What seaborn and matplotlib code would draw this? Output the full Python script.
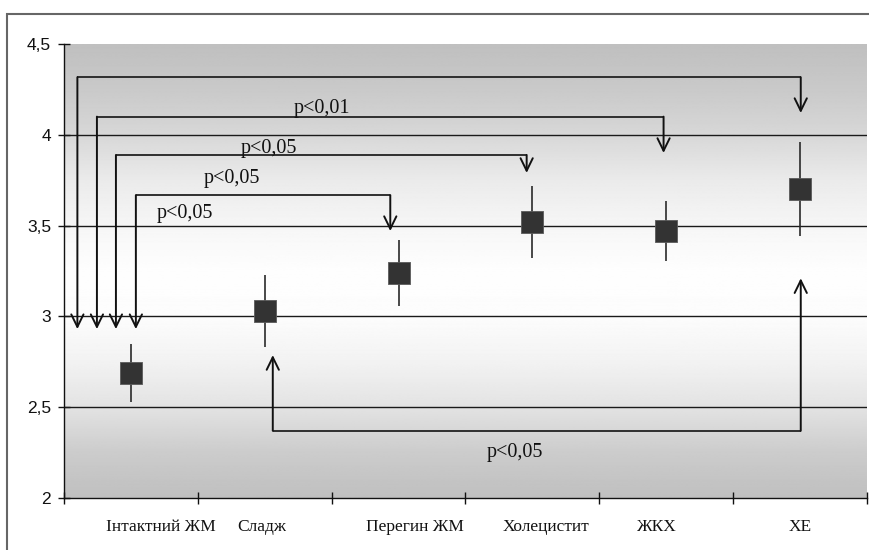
import numpy as np
import pandas as pd
import matplotlib
matplotlib.use('Agg')
import matplotlib.pyplot as plt
import matplotlib.transforms as mtransforms
from matplotlib.patches import Rectangle
import seaborn as sns

# data
groups = ['Інтактний ЖМ', 'Сладж', 'Перегин ЖМ', 'Холецистит', 'ЖКХ', 'ХЕ']
means = [2.69, 3.03, 3.24, 3.52, 3.47, 3.70]
errors = [0.16, 0.20, 0.18, 0.20, 0.165, 0.26]
y_ticks = [2, 2.5, 3, 3.5, 4, 4.5]
y_tick_labels = ['2', '2,5', '3', '3,5', '4', '4,5']

# significance comparisons (from group, to group) and their labels
comparisons = [(0, 5), (0, 4), (0, 3), (0, 2)]
comparison_labels = ['p<0,01', 'p<0,05', 'p<0,05', 'p<0,05']
bottom_comparison = (1, 5)
bottom_label = 'p<0,05'

# layout of the brackets (heights / offsets in axis units)
bracket_levels = [4.317, 4.10, 3.889, 3.668]
bracket_left_shift = [-0.40, -0.254, -0.112, 0.037]
bracket_right_shift = [0.005, -0.02, -0.043, -0.062]
right_tips = [4.12, 3.90, 3.79, 3.47]
left_tip = 2.93
label_pos = [(1.425, 4.147), (1.03, 3.927), (0.754, 3.762), (0.403, 3.564)]
bottom_level = 2.37
bottom_tips = (2.787, 3.21)
bottom_shift = (0.06, 0.005)
bottom_label_pos = (2.866, 2.253)
xlabel_shift_px = [30, -3, 16, 14, -9, 0]

sns.set_theme(style='white')
plt.rcParams['font.family'] = ['Liberation Sans', 'DejaVu Sans']

df = pd.DataFrame({'group': groups, 'mean': means, 'err': errors})

fig = plt.figure(figsize=(8.69, 5.5), dpi=100)
ax = fig.add_axes([64 / 869, 52 / 550, 803 / 869, 454 / 550])

# gradient background (grey at the edges, white in the middle)
stops_y = [2.0, 2.25, 2.5, 2.75, 3.0, 3.25, 3.5, 3.75, 4.0, 4.25, 4.5]
stops_g = [0.75, 0.80, 0.89, 0.95, 0.99, 0.995, 0.965, 0.92, 0.845, 0.79, 0.75]
yy = np.linspace(2, 4.5, 500)
grad = np.interp(yy, stops_y, stops_g)
ax.imshow(np.repeat(grad[:, None], 2, axis=1), cmap='gray', vmin=0, vmax=1,
          extent=[-0.5, 5.5, 2, 4.5], origin='lower', aspect='auto', zorder=0)

for yv in y_ticks[1:-1]:
    ax.axhline(yv, color='#1a1a1a', lw=1, zorder=1)

ax.vlines(range(len(groups)), df['mean'] - df['err'], df['mean'] + df['err'],
          color='#2a2a2a', lw=1.2, zorder=3)
sns.scatterplot(data=df, x='group', y='mean', marker='s', s=260, color='#333333',
                edgecolor='#5a5a5a', linewidth=0.6, zorder=4, ax=ax, legend=False)

arrow_kw = dict(arrowstyle='->,head_length=0.45,head_width=0.22', lw=1.4,
                color='#111111', shrinkA=0, shrinkB=0, mutation_scale=20)
serif = ['Liberation Serif', 'DejaVu Serif']

for k, (i, j) in enumerate(comparisons):
    x0 = i + bracket_left_shift[k]
    x1 = j + bracket_right_shift[k]
    lev = bracket_levels[k]
    ax.plot([x0, x1], [lev, lev], color='#222222', lw=1.3, zorder=5,
            solid_capstyle='butt')
    ax.annotate('', xy=(x0, left_tip), xytext=(x0, lev), arrowprops=arrow_kw,
                zorder=5, annotation_clip=False)
    ax.annotate('', xy=(x1, right_tips[k]), xytext=(x1, lev), arrowprops=arrow_kw,
                zorder=5, annotation_clip=False)
    ax.text(label_pos[k][0], label_pos[k][1], comparison_labels[k], ha='center',
            va='center', fontsize=14.5, family=serif, color='#111111', zorder=6)

bx0 = bottom_comparison[0] + bottom_shift[0]
bx1 = bottom_comparison[1] + bottom_shift[1]
ax.plot([bx0, bx1], [bottom_level, bottom_level], color='#222222', lw=1.3,
        zorder=5, solid_capstyle='butt')
ax.annotate('', xy=(bx0, bottom_tips[0]), xytext=(bx0, bottom_level),
            arrowprops=arrow_kw, zorder=5)
ax.annotate('', xy=(bx1, bottom_tips[1]), xytext=(bx1, bottom_level),
            arrowprops=arrow_kw, zorder=5)
ax.text(bottom_label_pos[0], bottom_label_pos[1], bottom_label, ha='center',
        va='center', fontsize=14.5, family=serif, color='#111111', zorder=6)

ax.set_xlim(-0.5, 5.5)
ax.set_ylim(2, 4.5)
ax.set_xlabel('')
ax.set_ylabel('')

ax.set_yticks(y_ticks)
ax.set_yticklabels(y_tick_labels, fontsize=12.5, color='#111111')
ax.tick_params(axis='y', which='major', direction='inout', length=8.6, width=1,
               color='#111111', pad=5, left=True)

ax.set_xticks(np.arange(-0.5, 6, 1))
ax.set_xticklabels([])
ax.set_xticks(range(len(groups)), minor=True)
ax.set_xticklabels(groups, minor=True, fontsize=12.5, family=serif, color='#111111')
ax.tick_params(axis='x', which='major', direction='inout', length=8.6, width=1,
               color='#111111', bottom=True)
ax.tick_params(axis='x', which='minor', length=0, pad=15)
for lab, dx in zip(ax.get_xticklabels(minor=True), xlabel_shift_px):
    lab.set_transform(lab.get_transform() +
                      mtransforms.ScaledTranslation(dx / 100, 0, fig.dpi_scale_trans))

for side in ['top', 'right']:
    ax.spines[side].set_visible(False)
for side in ['left', 'bottom']:
    ax.spines[side].set_color('#111111')
    ax.spines[side].set_linewidth(1)
ax.grid(False)

# outer chart frame
fig.add_artist(Rectangle((7 / 869, -0.5), 2, 1 - 14 / 550 + 0.5,
                         transform=fig.transFigure, fill=False,
                         edgecolor='#666666', lw=1.5))

fig.savefig('out.png', dpi=100)
